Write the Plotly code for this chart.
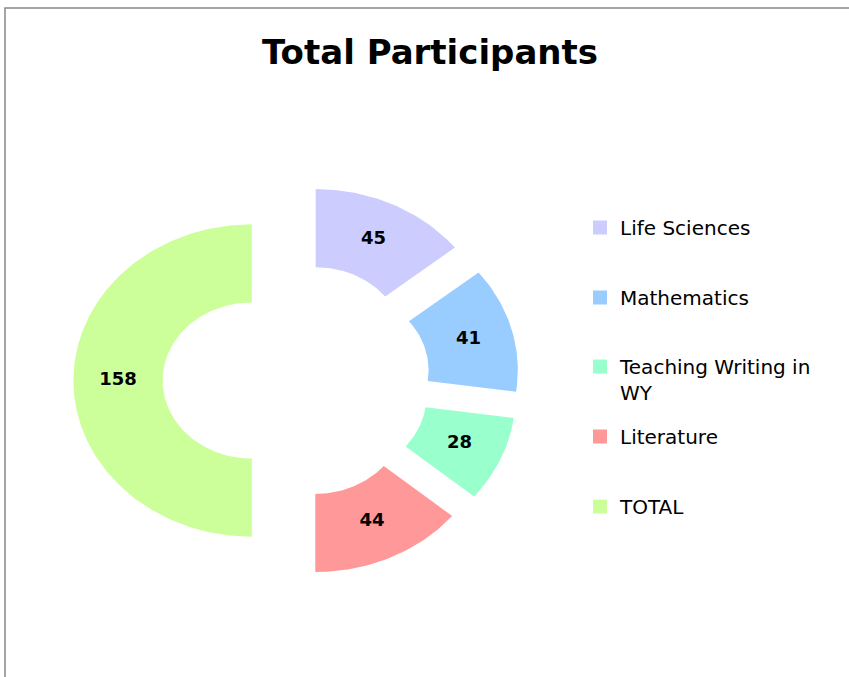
import math
import plotly.graph_objects as go

# ---- data ----
categories = ["Life Sciences", "Mathematics", "Teaching Writing in WY", "Literature", "TOTAL"]
legend_labels = ["Life Sciences", "Mathematics", "Teaching Writing in<br>WY", "Literature", "TOTAL"]
values = [45, 41, 28, 44, 158]
colors = ["#CCCCFF", "#99CCFF", "#99FFCC", "#FF9999", "#CCFF99"]

# ---- geometry / style (pixels of the 849x677 canvas) ----
W, H = 849, 677
CX, CY = 296.4, 380.5      # donut centre
RX, RY = 178.4, 156.2      # outer radii (chart is stretched horizontally)
HOLE = 0.5
EXPLODE = 0.25
LABEL_R = 0.75
FONT = "DejaVu Sans"

def pt(cx, cy, r, theta):
    return cx + r * RX * math.sin(theta), cy - r * RY * math.cos(theta)

fig = go.Figure()
total = sum(values)
cum = 0.0
lab_x, lab_y = [], []
for name, v, col in zip(categories, values, colors):
    t0 = 2 * math.pi * cum / total
    t1 = 2 * math.pi * (cum + v) / total
    cum += v
    tm = (t0 + t1) / 2
    ox = EXPLODE * RX * math.sin(tm)
    oy = -EXPLODE * RY * math.cos(tm)
    cx, cy = CX + ox, CY + oy
    n = max(3, int(math.degrees(t1 - t0)) + 2)
    xs, ys = [], []
    for k in range(n + 1):
        t = t0 + (t1 - t0) * k / n
        x, y = pt(cx, cy, 1.0, t)
        xs.append(x); ys.append(y)
    for k in range(n, -1, -1):
        t = t0 + (t1 - t0) * k / n
        x, y = pt(cx, cy, HOLE, t)
        xs.append(x); ys.append(y)
    xs.append(xs[0]); ys.append(ys[0])
    fig.add_trace(go.Scatter(x=xs, y=ys, mode="lines", fill="toself",
                             fillcolor=col, line=dict(width=0, color=col),
                             name=name, showlegend=False, hoverinfo="name"))
    lx, ly = pt(cx, cy, LABEL_R, tm)
    lab_x.append(lx); lab_y.append(ly)

fig.add_trace(go.Scatter(x=lab_x, y=lab_y, mode="text",
                         text=[str(v) for v in values],
                         textfont=dict(family=FONT, size=18, color="black", weight="bold"),
                         showlegend=False, hoverinfo="skip"))

# legend entries (one legend per entry so spacing matches the reference)
legend_text_y = [227, 297, 366, 436, 506]
for i, (lab, col) in enumerate(zip(legend_labels, colors)):
    key = "legend" if i == 0 else f"legend{i+1}"
    fig.add_trace(go.Scatter(x=[None], y=[None], mode="markers", name=lab,
                             marker=dict(symbol="square", size=14, color=col, line=dict(width=0)),
                             legend=key, showlegend=True))
    fig.update_layout(**{key: dict(x=(620 - 40) / W, xanchor="left",
                                   y=1 - (legend_text_y[i] - 19) / H, yanchor="top",
                                   valign="top", bgcolor="rgba(0,0,0,0)", borderwidth=0,
                                   font=dict(family=FONT, size=20, color="black"))})

fig.update_layout(
    width=W, height=H,
    margin=dict(l=0, r=0, t=0, b=0),
    paper_bgcolor="white", plot_bgcolor="white",
    xaxis=dict(range=[0, W], visible=False, fixedrange=True),
    yaxis=dict(range=[H, 0], visible=False, fixedrange=True),
    title=dict(text="<b>Total Participants</b>", x=430 / W, xanchor="center",
               xref="container", y=1 - 52 / H, yanchor="middle", yref="container",
               font=dict(family=FONT, size=34, color="black")),
    shapes=[dict(type="rect", xref="x", yref="y", x0=5, y0=8, x1=W + 50, y1=H + 50,
                 line=dict(color="#888888", width=1.5), fillcolor="rgba(0,0,0,0)")],
)

fig.write_html("out.html", config={"displayModeBar": False},
               post_script="document.body.style.margin='0';document.body.style.overflow='hidden';")
